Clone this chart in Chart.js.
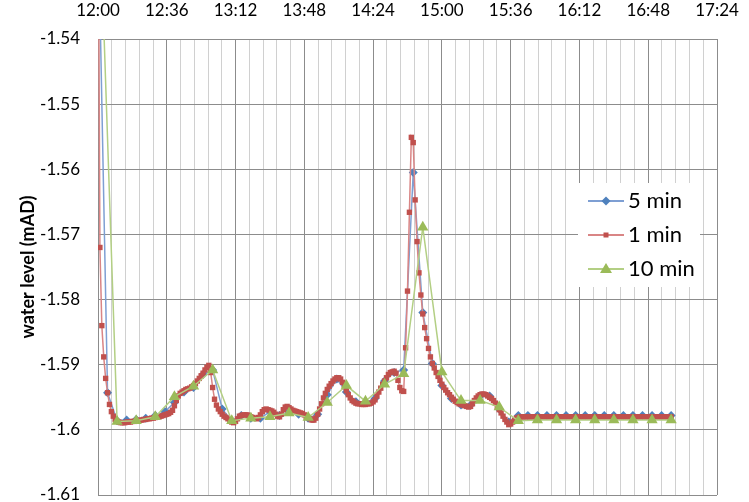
<!DOCTYPE html>
<html>
<head>
<meta charset="utf-8">
<script src="https://cdn.jsdelivr.net/npm/chart.js@4.4.1/dist/chart.umd.min.js"></script>
<style>
  body { margin: 0; background: #fff; }
</style>
</head>
<body>
<canvas id="levelCanvas" width="749" height="502"></canvas>
<script>
// time axis labels (major ticks every 36 min from 12:00)
const timeLabels = ["12:00", "12:36", "13:12", "13:48", "14:24", "15:00", "15:36", "16:12", "16:48", "17:24"];
const levelTicks = [-1.54, -1.55, -1.56, -1.57, -1.58, -1.59, -1.6, -1.61];

// 5 min series (one value every 5 minutes from 12:00)
const fiveMin = [
  -1.520, -1.5943, -1.5986, -1.5985, -1.5984, -1.5982, -1.5978, -1.5972, -1.5958, -1.5942,
  -1.5935, -1.5915, -1.5908, -1.5968, -1.5986, -1.5978, -1.5982, -1.5982, -1.5972, -1.5978,
  -1.5972, -1.5976, -1.5982, -1.5976, -1.5946, -1.5922, -1.5942, -1.5957, -1.5958, -1.5952,
  -1.5925, -1.5912, -1.5908, -1.5605, -1.5820, -1.5898, -1.5932, -1.5952, -1.5962, -1.5962,
  -1.5948, -1.5948, -1.5968, -1.5988, -1.5978, -1.5978, -1.5978, -1.5978, -1.5978, -1.5978,
  -1.5978, -1.5978, -1.5978, -1.5978, -1.5978, -1.5978, -1.5978, -1.5978, -1.5978, -1.5978,
  -1.5978
];

// 1 min series (one value every minute from 12:00)
const oneMin = [
  -1.508, -1.572, -1.584, -1.5888, -1.5921, -1.5943, -1.5961, -1.5972, -1.5979, -1.5984,
  -1.5987, -1.5988, -1.5989, -1.5989, -1.5989, -1.5988, -1.5988, -1.5988, -1.5987, -1.5987,
  -1.5986, -1.5986, -1.5985, -1.5985, -1.5984, -1.5984, -1.5983, -1.5983, -1.5982, -1.5982,
  -1.5981, -1.5980, -1.5980, -1.5979, -1.5978, -1.5977, -1.5976, -1.5975, -1.5973, -1.5970,
  -1.5963, -1.5955, -1.5948, -1.5944, -1.5942, -1.5940, -1.5938, -1.5937, -1.5936, -1.5934,
  -1.5932, -1.5929, -1.5925, -1.5921, -1.5917, -1.5913, -1.5908, -1.5904, -1.5901, -1.5912,
  -1.5935, -1.5953, -1.5962, -1.5968, -1.5972, -1.5976, -1.5979, -1.5981, -1.5983, -1.5986,
  -1.5988, -1.5989, -1.5987, -1.5983, -1.5979, -1.5978, -1.5977, -1.5977, -1.5977, -1.5978,
  -1.5980, -1.5981, -1.5982, -1.5983, -1.5981, -1.5977, -1.5972, -1.5969, -1.5968, -1.5969,
  -1.5970, -1.5971, -1.5973, -1.5976, -1.5979, -1.5980, -1.5976, -1.5969, -1.5965, -1.5964,
  -1.5966, -1.5968, -1.5970, -1.5971, -1.5972, -1.5973, -1.5974, -1.5975, -1.5977, -1.5979,
  -1.5981, -1.5983, -1.5985, -1.5985, -1.5982, -1.5976, -1.5968, -1.5960, -1.5951, -1.5944,
  -1.5938, -1.5933, -1.5929, -1.5925, -1.5922, -1.5920, -1.5920, -1.5922, -1.5927, -1.5934,
  -1.5940, -1.5946, -1.5951, -1.5955, -1.5957, -1.5959, -1.5960, -1.5960, -1.5961, -1.5961,
  -1.5961, -1.5960, -1.5960, -1.5959, -1.5957, -1.5954, -1.5948, -1.5942, -1.5936, -1.5930,
  -1.5925, -1.5920, -1.5915, -1.5912, -1.5911, -1.5910, -1.5913, -1.5924, -1.5935, -1.5940,
  -1.5941, -1.5874, -1.5787, -1.5666, -1.5551, -1.5559, -1.5647, -1.5711, -1.5759, -1.5793,
  -1.5822, -1.5843, -1.5860, -1.5875, -1.5888, -1.5898, -1.5905, -1.5912, -1.5918, -1.5924,
  -1.5930, -1.5935, -1.5939, -1.5943, -1.5946, -1.5950, -1.5953, -1.5956, -1.5958, -1.5960,
  -1.5961, -1.5962, -1.5963, -1.5964, -1.5965, -1.5964, -1.5960, -1.5955, -1.5951, -1.5948,
  -1.5946, -1.5945, -1.5945, -1.5946, -1.5948, -1.5950, -1.5952, -1.5955, -1.5959, -1.5964,
  -1.5969, -1.5974, -1.5979, -1.5984, -1.5988, -1.5992, -1.5991, -1.5988, -1.5985, -1.5982,
  -1.5981, -1.598, -1.598, -1.598, -1.598, -1.598, -1.598, -1.598, -1.598, -1.598,
  -1.598, -1.598, -1.598, -1.598, -1.598, -1.598, -1.598, -1.598, -1.598, -1.598,
  -1.598, -1.598, -1.598, -1.598, -1.598, -1.598, -1.598, -1.598, -1.598, -1.598,
  -1.598, -1.598, -1.598, -1.598, -1.598, -1.598, -1.598, -1.598, -1.598, -1.598,
  -1.598, -1.598, -1.598, -1.598, -1.598, -1.598, -1.598, -1.598, -1.598, -1.598,
  -1.598, -1.598, -1.598, -1.598, -1.598, -1.598, -1.598, -1.598, -1.598, -1.598,
  -1.598, -1.598, -1.598, -1.598, -1.598, -1.598, -1.598, -1.598, -1.598, -1.598,
  -1.598, -1.598, -1.598, -1.598, -1.598, -1.598, -1.598, -1.598, -1.598, -1.598,
  -1.598
];

// 10 min series (one value every 10 minutes from 12:00)
const tenMin = [
  -1.512, -1.5987, -1.5986, -1.5980, -1.5949, -1.5933, -1.5908, -1.5986, -1.5982, -1.5980,
  -1.5974, -1.5981, -1.5958, -1.5932, -1.5956, -1.5930, -1.5914, -1.5689, -1.5911, -1.5955,
  -1.5955, -1.5965, -1.5986, -1.5985, -1.5985, -1.5985, -1.5985, -1.5985, -1.5985, -1.5985,
  -1.5985
];

const gridMajor = '#8c8c8c';
const gridMinor = '#d0d0d0';

// minutes after 12:00 -> {x, y}
function toPoints(values, step) {
  return values.map((v, i) => ({ x: i * step, y: v }));
}

// legend box drawn inside the plot, like the excel one
const legendEntries = [
  { text: '5 min', line: '#7e9fd3', fill: '#4f81bd', shape: 'diamond' },
  { text: '1 min', line: '#d98585', fill: '#c0504d', shape: 'square' },
  { text: '10 min', line: '#b3cf84', fill: '#9bbb59', shape: 'triangle' }
];

function drawShape(ctx, shape, x, y) {
  ctx.beginPath();
  if (shape === 'diamond') {
    ctx.moveTo(x, y - 4.5); ctx.lineTo(x + 4.5, y); ctx.lineTo(x, y + 4.5); ctx.lineTo(x - 4.5, y);
  } else if (shape === 'square') {
    ctx.rect(x - 2.5, y - 2.5, 5, 5);
  } else {
    ctx.moveTo(x, y - 6); ctx.lineTo(x + 6, y + 4); ctx.lineTo(x - 6, y + 4);
  }
  ctx.closePath();
  ctx.fill();
}

const insideLegend = {
  id: 'insideLegend',
  afterDatasetsDraw(chart) {
    const ctx = chart.ctx;
    const area = chart.chartArea;
    const left = area.right - 139;
    const top = 183;
    ctx.save();
    ctx.fillStyle = '#ffffff';
    ctx.fillRect(left, top, 122, 104);
    ctx.font = '22px Lato';
    ctx.textBaseline = 'middle';
    legendEntries.forEach((e, i) => {
      const y = top + 18 + i * 34;
      ctx.strokeStyle = e.line;
      ctx.lineWidth = 2;
      ctx.beginPath();
      ctx.moveTo(left + 10, y);
      ctx.lineTo(left + 46, y);
      ctx.stroke();
      ctx.fillStyle = e.fill;
      drawShape(ctx, e.shape, left + 28, y);
      ctx.fillStyle = '#000';
      ctx.fillText(e.text, left + 50, y);
    });
    ctx.restore();
  }
};

Chart.defaults.font.family = 'Lato';
Chart.defaults.color = '#000';

const levelChart = new Chart(document.getElementById('levelCanvas'), {
  type: 'line',
  data: {
    datasets: [
      {
        label: '5 min',
        data: toPoints(fiveMin, 5),
        borderColor: '#7e9fd3',
        backgroundColor: '#4f81bd',
        borderWidth: 1.5,
        pointStyle: 'rectRot',
        pointRadius: 4.5,
        pointBorderWidth: 0,
        order: 2
      },
      {
        label: '1 min',
        data: toPoints(oneMin, 1),
        borderColor: '#d98585',
        backgroundColor: '#c0504d',
        borderWidth: 1.5,
        pointStyle: 'rect',
        pointRadius: 3.8,
        pointBorderWidth: 0,
        order: 1
      },
      {
        label: '10 min',
        data: toPoints(tenMin, 10),
        borderColor: '#b3cf84',
        backgroundColor: '#9bbb59',
        borderWidth: 1.5,
        pointStyle: 'triangle',
        pointRadius: 6.5,
        pointBorderWidth: 0,
        order: 0
      }
    ]
  },
  options: {
    responsive: false,
    animation: false,
    layout: { padding: { left: 0, right: 32, top: 0, bottom: 7 } },
    plugins: {
      legend: { display: false },
      tooltip: { enabled: false }
    },
    scales: {
      x: {
        type: 'linear',
        position: 'top',
        min: 0,
        max: 324,
        afterFit: (scale) => {
          scale.height = 39;
          scale.paddingLeft = 0;
          scale.paddingRight = 0;
        },
        ticks: {
          stepSize: 7.2,
          autoSkip: false,
          maxRotation: 0,
          padding: 18,
          font: { size: 17 },
          callback: (value, index) => index % 5 === 0 ? timeLabels[index / 5] : ''
        },
        grid: {
          drawTicks: false,
          color: (ctx) => ctx.index % 5 === 0 ? gridMajor : gridMinor
        },
        border: { color: gridMajor }
      },
      y: {
        min: levelTicks[levelTicks.length - 1],
        max: levelTicks[0],
        afterFit: (scale) => {
          scale.width = 98;
          scale.paddingTop = 0;
          scale.paddingBottom = 0;
        },
        ticks: {
          stepSize: 0.01,
          padding: 18,
          font: { size: 17 },
          callback: (value) => String(+value.toFixed(2))
        },
        grid: { drawTicks: false, color: gridMajor },
        border: { color: gridMajor },
        title: {
          display: true,
          text: 'water level (mAD)',
          font: { size: 18, weight: 'bold' },
          padding: { top: 17, bottom: 0 }
        }
      }
    }
  },
  plugins: [insideLegend]
});
</script>
</body>
</html>
